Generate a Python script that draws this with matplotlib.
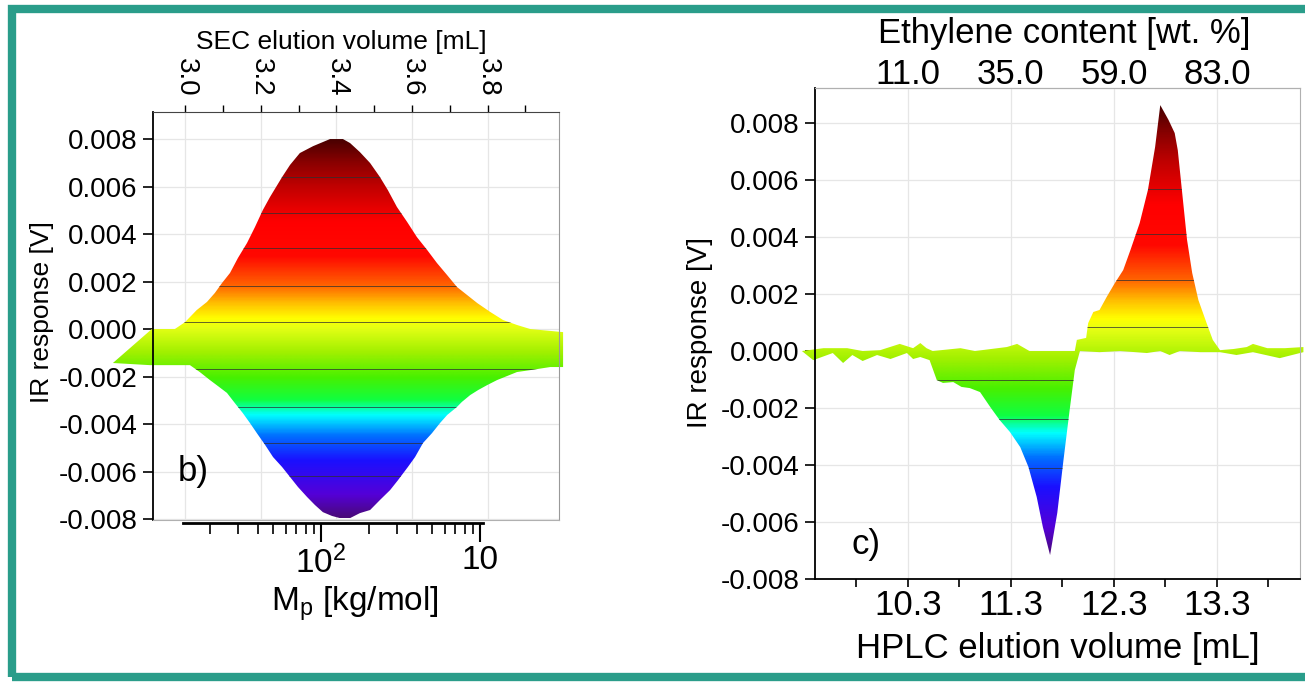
import numpy as np
import matplotlib
matplotlib.use('Agg')
import matplotlib.pyplot as plt
from matplotlib.colors import LinearSegmentedColormap, Normalize
from matplotlib.patches import Polygon, Rectangle

plt.rcParams['font.family'] = ['Liberation Sans', 'DejaVu Sans']
plt.rcParams['mathtext.fontset'] = 'custom'
plt.rcParams['mathtext.rm'] = 'Liberation Sans'
plt.rcParams['axes.unicode_minus'] = False

# panel b) outline of the IR response surface vs SEC elution volume (y in 1e-3 V)
sec_top_x = [2.808, 2.911, 2.972, 2.999, 3.030, 3.057, 3.078, 3.097, 3.118, 3.139, 3.163, 3.184,
             3.205, 3.224, 3.256, 3.277, 3.303, 3.338, 3.383, 3.417, 3.436, 3.462, 3.489, 3.515,
             3.536, 3.560, 3.587, 3.613, 3.640, 3.666, 3.693, 3.719, 3.746, 3.773, 3.807, 3.841,
             3.878, 3.913, 4.000]
sec_top_y = [-1.43, 0.00, 0.00, 0.29, 0.80, 1.14, 1.52, 1.94, 2.36, 2.99, 3.62, 4.29,
             5.01, 5.56, 6.40, 6.91, 7.41, 7.70, 8.00, 8.00, 7.83, 7.45, 6.99, 6.40,
             5.85, 5.14, 4.51, 3.87, 3.33, 2.78, 2.27, 1.77, 1.43, 1.09, 0.72, 0.38,
             0.17, 0.00, -0.13]
sec_bot_x = [2.808, 2.906, 3.012, 3.038, 3.065, 3.086, 3.110, 3.131, 3.152, 3.171, 3.189, 3.211,
             3.232, 3.256, 3.277, 3.298, 3.322, 3.343, 3.364, 3.388, 3.409, 3.436, 3.462, 3.489,
             3.515, 3.542, 3.563, 3.589, 3.608, 3.629, 3.653, 3.674, 3.693, 3.719, 3.732, 3.754,
             3.775, 3.799, 3.825, 3.878, 3.913, 3.966, 4.000]
sec_bot_y = [-1.43, -1.52, -1.52, -1.81, -2.15, -2.40, -2.69, -3.12, -3.54, -3.96, -4.38, -4.88,
             -5.39, -5.81, -6.23, -6.65, -7.07, -7.41, -7.71, -7.87, -7.96, -7.96, -7.75, -7.62,
             -7.20, -6.78, -6.36, -5.81, -5.39, -4.80, -4.38, -3.96, -3.62, -3.28, -3.07, -2.78,
             -2.57, -2.36, -2.15, -1.81, -1.73, -1.60, -1.60]
sec_levels = [-6.2, -4.8, -3.3, -1.7, 0.3, 1.8, 3.4, 4.9, 6.4]

sec_ticks = [3.0, 3.2, 3.4, 3.6, 3.8]
mass_major = [100, 1000]
mass_labels = ['$\\mathregular{10^2}$', '10']
mass_minor = [20, 30, 40, 50, 60, 70, 80, 90, 200, 300, 400, 500, 600, 700, 800, 900]

# panel c) outline vs HPLC elution volume (y in 1e-3 V)
hplc_top_x = [9.27, 9.48, 9.71, 9.86, 10.03, 10.22, 10.35, 10.42, 10.48, 10.54, 10.81, 10.95,
              11.26, 11.36, 11.48, 11.92, 11.94, 12.03, 12.05, 12.10, 12.16, 12.23, 12.31, 12.39,
              12.46, 12.55, 12.63, 12.70, 12.75, 12.83, 12.89, 12.92, 12.96, 13.01, 13.06, 13.12,
              13.20, 13.26, 13.33, 13.46, 13.59, 13.65, 13.79, 13.96, 14.14]
hplc_top_y = [0.00, 0.10, 0.10, 0.00, 0.03, 0.25, 0.10, 0.28, 0.10, 0.00, 0.10, 0.00,
              0.14, 0.25, 0.00, 0.00, 0.39, 0.46, 0.98, 1.37, 1.44, 1.90, 2.39, 2.84,
              3.54, 4.49, 5.65, 7.16, 8.63, 8.11, 7.65, 7.05, 5.65, 3.90, 2.74, 1.79,
              0.98, 0.39, 0.03, 0.07, 0.14, 0.25, 0.10, 0.10, 0.14]
hplc_bot_x = [9.27, 9.38, 9.57, 9.67, 9.76, 9.86, 10.00, 10.13, 10.29, 10.35, 10.42, 10.51,
              10.58, 10.64, 10.74, 10.82, 10.90, 11.00, 11.10, 11.19, 11.29, 11.39, 11.47, 11.55,
              11.61, 11.68, 11.75, 11.81, 11.87, 11.92, 11.97, 12.16, 12.36, 12.62, 12.75, 12.84,
              12.94, 13.14, 13.33, 13.49, 13.65, 13.91, 14.14]
hplc_bot_y = [0.00, -0.32, -0.07, -0.42, -0.14, -0.35, -0.14, -0.28, -0.07, -0.28, -0.21, -0.32,
              -1.02, -1.12, -1.09, -1.26, -1.30, -1.44, -1.97, -2.42, -2.84, -3.37, -4.07, -5.12,
              -6.18, -7.16, -5.68, -3.83, -2.07, -0.67, 0.00, -0.04, 0.00, -0.07, 0.00, -0.14,
              0.00, -0.04, -0.04, -0.14, -0.04, -0.25, -0.04]
hplc_levels = [-4.1, -2.4, -1.0, 0.85, 2.5, 4.1, 5.7]

hplc_ticks = [10.3, 11.3, 12.3, 13.3]
hplc_minor = [9.8, 10.8, 11.8, 12.8, 13.8]
ethylene_ticks = [11.0, 35.0, 59.0, 83.0]

ir_ticks = [-0.008, -0.006, -0.004, -0.002, 0.0, 0.002, 0.004, 0.006, 0.008]

rainbow = LinearSegmentedColormap.from_list('origin_rainbow', [
    (0.000, '#4a0a7a'), (0.060, '#5400d8'), (0.150, '#1a10ff'), (0.215, '#0070ff'),
    (0.270, '#00ffff'), (0.310, '#10ff40'), (0.370, '#48f000'), (0.435, '#a0f000'),
    (0.500, '#e4ff14'), (0.525, '#ffff00'), (0.565, '#ffc000'), (0.615, '#ff6000'),
    (0.690, '#ff0800'), (0.780, '#ff0000'), (0.875, '#c00000'), (0.940, '#880000'),
    (1.000, '#480000')])


def draw_surface(ax, top_x, top_y, bot_x, bot_y, levels):
    xs = np.r_[top_x, bot_x[::-1]]
    ys = np.r_[top_y, bot_y[::-1]] * 1e-3
    shape = Polygon(np.column_stack([xs, ys]), closed=True, transform=ax.transData,
                    fc='none', ec='none')
    grad = np.linspace(ys.min(), ys.max(), 600).reshape(-1, 1)
    im = ax.imshow(grad, extent=[xs.min(), xs.max(), ys.min(), ys.max()], origin='lower',
                   aspect='auto', cmap=rainbow, norm=Normalize(ys.min(), ys.max()),
                   interpolation='bilinear', zorder=2)
    im.set_clip_path(shape)
    im.set_clip_box(ax.figure.bbox)
    for lv in levels:
        ln, = ax.plot([xs.min(), xs.max()], [lv * 1e-3, lv * 1e-3], color='#303030',
                      lw=0.7, alpha=0.75, zorder=3)
        ln.set_clip_path(shape)
        ln.set_clip_box(ax.figure.bbox)


fig = plt.figure(figsize=(13.05, 6.86), dpi=100)

# ---- panel b)
ax1 = fig.add_axes([0.1172, 0.2420, 0.3111, 0.5948])
draw_surface(ax1, sec_top_x, sec_top_y, sec_bot_x, sec_bot_y, sec_levels)
ax1.set_xlim(2.914, 3.989)
ax1.set_ylim(-0.00804, 0.00914)
ax1.xaxis.tick_top()
ax1.set_xticks(sec_ticks, labels=['%.1f' % t for t in sec_ticks], rotation=270)
ax1.set_xticks(np.arange(3.1, 3.95, 0.2), minor=True)
ax1.tick_params(axis='x', which='both', length=5, width=1, labelsize=20, pad=6)
ax1.set_yticks(ir_ticks, labels=['%.3f' % t for t in ir_ticks])
ax1.tick_params(axis='y', length=7, width=1.2, labelsize=20, pad=4)
ax1.grid(True, color='#e6e6e6', lw=0.9)
ax1.set_axisbelow(True)
ax1.spines['left'].set_linewidth(1.3)
ax1.spines['top'].set_color('#444444')
ax1.spines['right'].set_color('#999999')
ax1.spines['bottom'].set_color('#b0b0b0')
ax1.text(0.463, 1.172, 'SEC elution volume [mL]', transform=ax1.transAxes,
         ha='center', va='center', fontsize=19)
ax1.set_ylabel('IR response [V]', fontsize=19)
ax1.yaxis.set_label_coords(-0.273, 0.510)
ax1.yaxis.label.set_va('center')
ax1.text(3.02, -0.0060, 'b)', fontsize=25, ha='center', va='center', zorder=5)


def sec_to_mass(v):
    return 10 ** (2 + (np.asarray(v) - 3.359) / 0.421)


def mass_to_sec(m):
    return 3.359 + 0.421 * (np.log10(np.clip(m, 1e-12, None)) - 2)


axm = ax1.secondary_xaxis(-0.008, functions=(sec_to_mass, mass_to_sec))
axm.set_xticks(mass_major, labels=mass_labels)
axm.set_xticks(mass_minor, minor=True)
axm.spines['bottom'].set_bounds(13.5, 1045)
axm.spines['bottom'].set_linewidth(2)
axm.tick_params(which='major', length=14, width=1.5, labelsize=24, pad=2)
axm.tick_params(which='minor', length=8, width=1.2)
ax1.text(0.498, -0.205, 'M$_\\mathregular{p}$ [kg/mol]', transform=ax1.transAxes,
         ha='center', va='center', fontsize=24)

# ---- panel c)
ax2 = fig.add_axes([0.6245, 0.1560, 0.3716, 0.7157])
draw_surface(ax2, hplc_top_x, hplc_top_y, hplc_bot_x, hplc_bot_y, hplc_levels)
ax2.set_xlim(9.397, 14.106)
ax2.set_ylim(-0.0080, 0.00923)
ax2.set_xticks(hplc_ticks, labels=['%.1f' % t for t in hplc_ticks])
ax2.set_xticks(hplc_minor, minor=True)
ax2.tick_params(axis='x', which='both', length=6, width=1.2, labelsize=25, pad=1)
ax2.set_yticks(ir_ticks, labels=['%.3f' % t for t in ir_ticks])
ax2.tick_params(axis='y', length=7, width=1.2, labelsize=20, pad=4)
ax2.grid(True, color='#e6e6e6', lw=0.9)
ax2.set_axisbelow(True)
ax2.spines['left'].set_linewidth(1.3)
ax2.spines['bottom'].set_linewidth(1.3)
ax2.spines['top'].set_color('#b0b0b0')
ax2.spines['right'].set_color('#b0b0b0')
ax2.set_xlabel('HPLC elution volume [mL]', fontsize=25)
ax2.xaxis.set_label_coords(0.501, -0.141)
ax2.xaxis.label.set_va('center')
ax2.set_ylabel('IR response [V]', fontsize=20)
ax2.yaxis.set_label_coords(-0.237, 0.503)
ax2.yaxis.label.set_va('center')
ax2.text(9.89, -0.0068, 'c)', fontsize=25, ha='center', va='center', zorder=5)

axe = ax2.secondary_xaxis('top', functions=(lambda v: 11 + 24 * (np.asarray(v) - 10.3),
                                           lambda e: 10.3 + (np.asarray(e) - 11) / 24))
axe.set_xticks(ethylene_ticks, labels=['%.1f' % t for t in ethylene_ticks])
axe.tick_params(length=0, labelsize=25, pad=-2)
axe.spines['top'].set_color('#b0b0b0')
ax2.text(0.515, 1.112, 'Ethylene content [wt. %]', transform=ax2.transAxes,
         ha='center', va='center', fontsize=25)

fig.add_artist(Rectangle((12 / 1305, 9 / 686), 1310 / 1305, 668 / 686, transform=fig.transFigure,
                         fill=False, ec='#2a9d8a', lw=6))

fig.savefig('out.png', dpi=100)
